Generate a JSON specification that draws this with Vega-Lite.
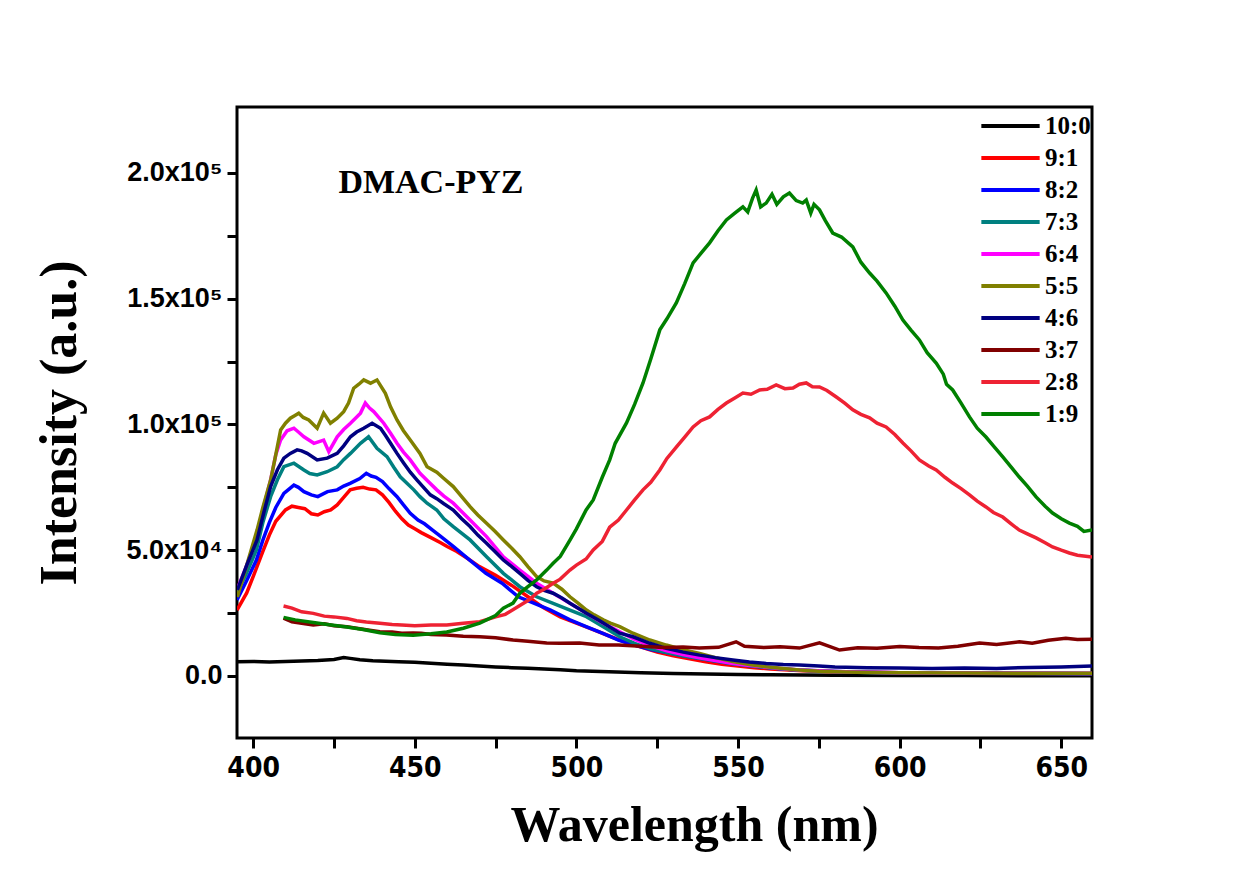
{
"$schema": "https://vega.github.io/schema/vega-lite/v6.json",
"width": 855, "height": 631,
"autosize": {"type": "none"},
"padding": {"left": 237, "top": 107, "right": 167, "bottom": 140},
"background": "white",
"config": {"view": {"stroke": "black", "strokeWidth": 3}},
"datasets": {
"spectra": [
{"s":"10:0","x":395,"y":5700},{"s":"10:0","x":400,"y":5800},{"s":"10:0","x":405,"y":5600},{"s":"10:0","x":410,"y":5800},{"s":"10:0","x":415,"y":6000},{"s":"10:0","x":420,"y":6200},{"s":"10:0","x":425,"y":6600},{"s":"10:0","x":428,"y":7300},{"s":"10:0","x":430,"y":7000},{"s":"10:0","x":433,"y":6500},{"s":"10:0","x":437,"y":6100},{"s":"10:0","x":441,"y":5900},{"s":"10:0","x":445,"y":5700},{"s":"10:0","x":450,"y":5500},{"s":"10:0","x":455,"y":5100},{"s":"10:0","x":460,"y":4700},{"s":"10:0","x":465,"y":4400},{"s":"10:0","x":470,"y":4000},{"s":"10:0","x":475,"y":3600},{"s":"10:0","x":480,"y":3300},{"s":"10:0","x":485,"y":3100},{"s":"10:0","x":490,"y":2800},{"s":"10:0","x":495,"y":2500},{"s":"10:0","x":500,"y":2100},{"s":"10:0","x":505,"y":1900},{"s":"10:0","x":510,"y":1700},{"s":"10:0","x":515,"y":1500},{"s":"10:0","x":520,"y":1300},{"s":"10:0","x":530,"y":1000},{"s":"10:0","x":540,"y":800},{"s":"10:0","x":550,"y":600},{"s":"10:0","x":560,"y":500},{"s":"10:0","x":570,"y":400},{"s":"10:0","x":580,"y":300},{"s":"10:0","x":600,"y":200},{"s":"10:0","x":620,"y":200},{"s":"10:0","x":640,"y":100},{"s":"10:0","x":659.5,"y":100},

{"s":"9:1","x":395,"y":26200},{"s":"9:1","x":398,"y":33000},{"s":"9:1","x":400,"y":39500},{"s":"9:1","x":403,"y":49500},{"s":"9:1","x":405,"y":56000},{"s":"9:1","x":407,"y":61500},{"s":"9:1","x":410,"y":66000},{"s":"9:1","x":412,"y":67500},{"s":"9:1","x":414,"y":67000},{"s":"9:1","x":416,"y":66500},{"s":"9:1","x":418,"y":64500},{"s":"9:1","x":420,"y":64000},{"s":"9:1","x":422,"y":65300},{"s":"9:1","x":424,"y":66000},{"s":"9:1","x":426,"y":68000},{"s":"9:1","x":428,"y":71000},{"s":"9:1","x":430,"y":74000},{"s":"9:1","x":432,"y":74600},{"s":"9:1","x":434,"y":75000},{"s":"9:1","x":436,"y":74300},{"s":"9:1","x":438,"y":74000},{"s":"9:1","x":440,"y":72000},{"s":"9:1","x":442,"y":69000},{"s":"9:1","x":444,"y":65500},{"s":"9:1","x":446,"y":62500},{"s":"9:1","x":448,"y":60000},{"s":"9:1","x":450,"y":58500},{"s":"9:1","x":452,"y":57000},{"s":"9:1","x":455,"y":55000},{"s":"9:1","x":458,"y":53000},{"s":"9:1","x":460,"y":51500},{"s":"9:1","x":463,"y":49500},{"s":"9:1","x":466,"y":47000},{"s":"9:1","x":470,"y":43500},{"s":"9:1","x":475,"y":40000},{"s":"9:1","x":480,"y":36000},{"s":"9:1","x":485,"y":31500},{"s":"9:1","x":490,"y":27000},{"s":"9:1","x":495,"y":23500},{"s":"9:1","x":500,"y":21000},{"s":"9:1","x":505,"y":18500},{"s":"9:1","x":510,"y":16000},{"s":"9:1","x":515,"y":13500},{"s":"9:1","x":520,"y":11500},{"s":"9:1","x":525,"y":9500},{"s":"9:1","x":530,"y":8000},{"s":"9:1","x":535,"y":6800},{"s":"9:1","x":540,"y":5700},{"s":"9:1","x":545,"y":4700},{"s":"9:1","x":550,"y":4000},{"s":"9:1","x":555,"y":3300},{"s":"9:1","x":560,"y":2800},{"s":"9:1","x":570,"y":2100},{"s":"9:1","x":580,"y":1700},{"s":"9:1","x":590,"y":1500},{"s":"9:1","x":600,"y":1300},{"s":"9:1","x":620,"y":1100},{"s":"9:1","x":640,"y":1000},{"s":"9:1","x":659.5,"y":1000},

{"s":"8:2","x":395,"y":30200},{"s":"8:2","x":398,"y":38000},{"s":"8:2","x":401,"y":46100},{"s":"8:2","x":403,"y":54000},{"s":"8:2","x":405,"y":61000},{"s":"8:2","x":407,"y":67000},{"s":"8:2","x":409.5,"y":72600},{"s":"8:2","x":412.6,"y":75900},{"s":"8:2","x":414,"y":75000},{"s":"8:2","x":415.7,"y":73300},{"s":"8:2","x":418,"y":72000},{"s":"8:2","x":420,"y":71300},{"s":"8:2","x":423,"y":73300},{"s":"8:2","x":426,"y":74000},{"s":"8:2","x":428,"y":75500},{"s":"8:2","x":430,"y":76600},{"s":"8:2","x":433,"y":78500},{"s":"8:2","x":435,"y":80600},{"s":"8:2","x":436.5,"y":79500},{"s":"8:2","x":438,"y":79000},{"s":"8:2","x":440,"y":77300},{"s":"8:2","x":442,"y":74500},{"s":"8:2","x":444.5,"y":71300},{"s":"8:2","x":446.5,"y":68000},{"s":"8:2","x":448.6,"y":64700},{"s":"8:2","x":451,"y":62000},{"s":"8:2","x":453,"y":60500},{"s":"8:2","x":456,"y":57500},{"s":"8:2","x":458,"y":55500},{"s":"8:2","x":462,"y":51400},{"s":"8:2","x":467,"y":46100},{"s":"8:2","x":472,"y":40800},{"s":"8:2","x":477,"y":36900},{"s":"8:2","x":482,"y":31500},{"s":"8:2","x":487,"y":28900},{"s":"8:2","x":492,"y":26200},{"s":"8:2","x":498,"y":22300},{"s":"8:2","x":503,"y":19600},{"s":"8:2","x":508,"y":17000},{"s":"8:2","x":513,"y":14300},{"s":"8:2","x":518,"y":12300},{"s":"8:2","x":523,"y":10500},{"s":"8:2","x":528,"y":9300},{"s":"8:2","x":533,"y":8000},{"s":"8:2","x":538,"y":7000},{"s":"8:2","x":543,"y":6000},{"s":"8:2","x":548,"y":5000},{"s":"8:2","x":553,"y":4200},{"s":"8:2","x":559,"y":3400},{"s":"8:2","x":564,"y":2800},{"s":"8:2","x":569,"y":2400},{"s":"8:2","x":580,"y":1800},{"s":"8:2","x":590,"y":1500},{"s":"8:2","x":600,"y":1300},{"s":"8:2","x":620,"y":1200},{"s":"8:2","x":640,"y":1100},{"s":"8:2","x":659.5,"y":1000},

{"s":"7:3","x":395,"y":33000},{"s":"7:3","x":398,"y":41000},{"s":"7:3","x":401,"y":50100},{"s":"7:3","x":403,"y":61000},{"s":"7:3","x":405.4,"y":71300},{"s":"7:3","x":407.5,"y":78000},{"s":"7:3","x":409.5,"y":83200},{"s":"7:3","x":412.6,"y":84600},{"s":"7:3","x":415.7,"y":81900},{"s":"7:3","x":417.5,"y":80500},{"s":"7:3","x":419.8,"y":79900},{"s":"7:3","x":422.9,"y":81200},{"s":"7:3","x":426,"y":83200},{"s":"7:3","x":428,"y":86000},{"s":"7:3","x":430.1,"y":88500},{"s":"7:3","x":433.2,"y":92500},{"s":"7:3","x":435.7,"y":95100},{"s":"7:3","x":438.3,"y":90500},{"s":"7:3","x":441.4,"y":87200},{"s":"7:3","x":443.5,"y":83000},{"s":"7:3","x":445.5,"y":79200},{"s":"7:3","x":449.7,"y":74000},{"s":"7:3","x":451.6,"y":71300},{"s":"7:3","x":453.8,"y":68700},{"s":"7:3","x":456.8,"y":66000},{"s":"7:3","x":459,"y":62500},{"s":"7:3","x":461.9,"y":59400},{"s":"7:3","x":467.1,"y":54100},{"s":"7:3","x":472.2,"y":47400},{"s":"7:3","x":477.4,"y":40800},{"s":"7:3","x":482.5,"y":35500},{"s":"7:3","x":487.7,"y":31500},{"s":"7:3","x":492.8,"y":28900},{"s":"7:3","x":498,"y":26200},{"s":"7:3","x":503.1,"y":23600},{"s":"7:3","x":508.3,"y":19600},{"s":"7:3","x":513.4,"y":15600},{"s":"7:3","x":518,"y":13000},{"s":"7:3","x":523,"y":10800},{"s":"7:3","x":528,"y":9300},{"s":"7:3","x":533,"y":8000},{"s":"7:3","x":538,"y":7000},{"s":"7:3","x":543,"y":6000},{"s":"7:3","x":548,"y":5000},{"s":"7:3","x":553,"y":4200},{"s":"7:3","x":559,"y":3400},{"s":"7:3","x":564,"y":2800},{"s":"7:3","x":569,"y":2300},{"s":"7:3","x":580,"y":1800},{"s":"7:3","x":590,"y":1400},{"s":"7:3","x":600,"y":1200},{"s":"7:3","x":620,"y":1100},{"s":"7:3","x":640,"y":1000},{"s":"7:3","x":659.5,"y":900},

{"s":"6:4","x":395,"y":34200},{"s":"6:4","x":398,"y":44000},{"s":"6:4","x":401.2,"y":55400},{"s":"6:4","x":403,"y":66000},{"s":"6:4","x":405.4,"y":77900},{"s":"6:4","x":407,"y":88000},{"s":"6:4","x":408.5,"y":93800},{"s":"6:4","x":410.5,"y":97500},{"s":"6:4","x":412.6,"y":98500},{"s":"6:4","x":414,"y":97000},{"s":"6:4","x":415.7,"y":95100},{"s":"6:4","x":418.8,"y":92500},{"s":"6:4","x":421.8,"y":93800},{"s":"6:4","x":423.4,"y":89200},{"s":"6:4","x":426,"y":95100},{"s":"6:4","x":428,"y":98000},{"s":"6:4","x":430.1,"y":100500},{"s":"6:4","x":433.2,"y":104500},{"s":"6:4","x":434.7,"y":108500},{"s":"6:4","x":436,"y":106500},{"s":"6:4","x":437.3,"y":105100},{"s":"6:4","x":440.4,"y":100500},{"s":"6:4","x":442.5,"y":96500},{"s":"6:4","x":444.5,"y":92500},{"s":"6:4","x":446.5,"y":89000},{"s":"6:4","x":448.6,"y":85900},{"s":"6:4","x":451.6,"y":80600},{"s":"6:4","x":454,"y":77500},{"s":"6:4","x":456.8,"y":74000},{"s":"6:4","x":459,"y":71500},{"s":"6:4","x":461.9,"y":68700},{"s":"6:4","x":467.1,"y":62000},{"s":"6:4","x":472.2,"y":55400},{"s":"6:4","x":477.4,"y":47400},{"s":"6:4","x":482.5,"y":42100},{"s":"6:4","x":487.7,"y":36900},{"s":"6:4","x":492.8,"y":32900},{"s":"6:4","x":498,"y":28900},{"s":"6:4","x":503.1,"y":24900},{"s":"6:4","x":508.3,"y":21000},{"s":"6:4","x":513.4,"y":17600},{"s":"6:4","x":518,"y":14500},{"s":"6:4","x":523,"y":12000},{"s":"6:4","x":528,"y":10000},{"s":"6:4","x":533,"y":8500},{"s":"6:4","x":538,"y":7200},{"s":"6:4","x":543,"y":6100},{"s":"6:4","x":548,"y":5100},{"s":"6:4","x":553,"y":4300},{"s":"6:4","x":559,"y":3500},{"s":"6:4","x":564,"y":2900},{"s":"6:4","x":569,"y":2400},{"s":"6:4","x":580,"y":1800},{"s":"6:4","x":590,"y":1500},{"s":"6:4","x":600,"y":1300},{"s":"6:4","x":620,"y":1200},{"s":"6:4","x":640,"y":1100},{"s":"6:4","x":659.5,"y":1000},

{"s":"5:5","x":395.1,"y":31400},{"s":"5:5","x":398,"y":44000},{"s":"5:5","x":401.2,"y":58000},{"s":"5:5","x":403,"y":67000},{"s":"5:5","x":405.4,"y":77900},{"s":"5:5","x":407,"y":88000},{"s":"5:5","x":408.5,"y":97800},{"s":"5:5","x":410,"y":100500},{"s":"5:5","x":411.5,"y":102500},{"s":"5:5","x":412.8,"y":103500},{"s":"5:5","x":414.1,"y":104500},{"s":"5:5","x":415.5,"y":102800},{"s":"5:5","x":417.2,"y":101800},{"s":"5:5","x":419.8,"y":98500},{"s":"5:5","x":421.8,"y":104500},{"s":"5:5","x":423.9,"y":100500},{"s":"5:5","x":426,"y":102500},{"s":"5:5","x":428,"y":105100},{"s":"5:5","x":429.5,"y":108500},{"s":"5:5","x":431.1,"y":114400},{"s":"5:5","x":432.7,"y":116000},{"s":"5:5","x":434.2,"y":117700},{"s":"5:5","x":436.3,"y":116400},{"s":"5:5","x":438.3,"y":117700},{"s":"5:5","x":440.9,"y":112400},{"s":"5:5","x":442.5,"y":107000},{"s":"5:5","x":444.5,"y":101800},{"s":"5:5","x":446.5,"y":97500},{"s":"5:5","x":448.6,"y":93800},{"s":"5:5","x":451.6,"y":88500},{"s":"5:5","x":453.8,"y":83200},{"s":"5:5","x":456.8,"y":81000},{"s":"5:5","x":459,"y":78500},{"s":"5:5","x":461.9,"y":75300},{"s":"5:5","x":464.5,"y":71300},{"s":"5:5","x":467.1,"y":67300},{"s":"5:5","x":469.5,"y":64000},{"s":"5:5","x":472.2,"y":60700},{"s":"5:5","x":474.8,"y":57500},{"s":"5:5","x":477.4,"y":54100},{"s":"5:5","x":480,"y":50800},{"s":"5:5","x":482.5,"y":47400},{"s":"5:5","x":485,"y":43500},{"s":"5:5","x":487.7,"y":39500},{"s":"5:5","x":490,"y":37800},{"s":"5:5","x":492.8,"y":36900},{"s":"5:5","x":495.5,"y":34500},{"s":"5:5","x":498,"y":31500},{"s":"5:5","x":500.5,"y":29000},{"s":"5:5","x":503.1,"y":26200},{"s":"5:5","x":505.5,"y":24300},{"s":"5:5","x":508.3,"y":22300},{"s":"5:5","x":510.5,"y":21000},{"s":"5:5","x":513.4,"y":19600},{"s":"5:5","x":517.5,"y":17000},{"s":"5:5","x":522.7,"y":14300},{"s":"5:5","x":527.8,"y":12300},{"s":"5:5","x":533,"y":10500},{"s":"5:5","x":538.1,"y":9000},{"s":"5:5","x":543,"y":7300},{"s":"5:5","x":548.4,"y":5700},{"s":"5:5","x":553.5,"y":4600},{"s":"5:5","x":558.7,"y":3700},{"s":"5:5","x":564,"y":3000},{"s":"5:5","x":569,"y":2400},{"s":"5:5","x":575,"y":1900},{"s":"5:5","x":580,"y":1700},{"s":"5:5","x":590,"y":1400},{"s":"5:5","x":600,"y":1300},{"s":"5:5","x":620,"y":1200},{"s":"5:5","x":640,"y":1100},{"s":"5:5","x":659.5,"y":1100},

{"s":"4:6","x":395.1,"y":34200},{"s":"4:6","x":398,"y":44000},{"s":"4:6","x":401.2,"y":54100},{"s":"4:6","x":403.3,"y":65000},{"s":"4:6","x":405.4,"y":75300},{"s":"4:6","x":407.5,"y":82000},{"s":"4:6","x":409.5,"y":86600},{"s":"4:6","x":411.5,"y":88500},{"s":"4:6","x":413.6,"y":89900},{"s":"4:6","x":415,"y":89500},{"s":"4:6","x":416.7,"y":88500},{"s":"4:6","x":419.8,"y":85900},{"s":"4:6","x":422.9,"y":86600},{"s":"4:6","x":426,"y":88500},{"s":"4:6","x":428,"y":91500},{"s":"4:6","x":430.1,"y":95100},{"s":"4:6","x":432,"y":97000},{"s":"4:6","x":434.2,"y":98500},{"s":"4:6","x":436.8,"y":100500},{"s":"4:6","x":439.4,"y":98500},{"s":"4:6","x":441,"y":95500},{"s":"4:6","x":442.5,"y":92500},{"s":"4:6","x":444.5,"y":88500},{"s":"4:6","x":446.6,"y":84600},{"s":"4:6","x":448.6,"y":81000},{"s":"4:6","x":450.7,"y":77900},{"s":"4:6","x":452.5,"y":75300},{"s":"4:6","x":454.8,"y":72000},{"s":"4:6","x":456.8,"y":70500},{"s":"4:6","x":459,"y":68500},{"s":"4:6","x":461.9,"y":66000},{"s":"4:6","x":464.5,"y":62500},{"s":"4:6","x":467.1,"y":59400},{"s":"4:6","x":469.5,"y":56000},{"s":"4:6","x":472.2,"y":52800},{"s":"4:6","x":474.8,"y":49500},{"s":"4:6","x":477.4,"y":46100},{"s":"4:6","x":480,"y":43500},{"s":"4:6","x":482.5,"y":40800},{"s":"4:6","x":485,"y":38000},{"s":"4:6","x":487.7,"y":35500},{"s":"4:6","x":490,"y":34000},{"s":"4:6","x":492.8,"y":32900},{"s":"4:6","x":495.5,"y":31000},{"s":"4:6","x":498,"y":28900},{"s":"4:6","x":503.1,"y":24900},{"s":"4:6","x":507.2,"y":22000},{"s":"4:6","x":513.4,"y":17000},{"s":"4:6","x":517.5,"y":15600},{"s":"4:6","x":522.7,"y":13000},{"s":"4:6","x":527.8,"y":11000},{"s":"4:6","x":533,"y":9500},{"s":"4:6","x":538.1,"y":8300},{"s":"4:6","x":543,"y":7300},{"s":"4:6","x":548.4,"y":6400},{"s":"4:6","x":553.5,"y":5600},{"s":"4:6","x":558.7,"y":5000},{"s":"4:6","x":564,"y":4600},{"s":"4:6","x":569,"y":4400},{"s":"4:6","x":575,"y":4000},{"s":"4:6","x":580,"y":3600},{"s":"4:6","x":590,"y":3300},{"s":"4:6","x":600,"y":3200},{"s":"4:6","x":610,"y":3000},{"s":"4:6","x":620,"y":3200},{"s":"4:6","x":630,"y":3000},{"s":"4:6","x":640,"y":3400},{"s":"4:6","x":650,"y":3600},{"s":"4:6","x":659.5,"y":4000},

{"s":"3:7","x":409.4,"y":23000},{"s":"3:7","x":412,"y":21500},{"s":"3:7","x":415,"y":21000},{"s":"3:7","x":418.6,"y":20300},{"s":"3:7","x":422,"y":20800},{"s":"3:7","x":425,"y":20000},{"s":"3:7","x":429,"y":19600},{"s":"3:7","x":432,"y":19000},{"s":"3:7","x":436,"y":18200},{"s":"3:7","x":439.2,"y":17600},{"s":"3:7","x":443,"y":17500},{"s":"3:7","x":446,"y":17000},{"s":"3:7","x":449.5,"y":17100},{"s":"3:7","x":452,"y":17000},{"s":"3:7","x":455,"y":16500},{"s":"3:7","x":459.8,"y":16300},{"s":"3:7","x":465,"y":15800},{"s":"3:7","x":470.1,"y":15600},{"s":"3:7","x":475,"y":15200},{"s":"3:7","x":480.4,"y":14300},{"s":"3:7","x":485,"y":13800},{"s":"3:7","x":490.8,"y":13100},{"s":"3:7","x":495,"y":13000},{"s":"3:7","x":501,"y":13100},{"s":"3:7","x":507,"y":12300},{"s":"3:7","x":513,"y":12300},{"s":"3:7","x":520,"y":11800},{"s":"3:7","x":527,"y":11300},{"s":"3:7","x":533,"y":11500},{"s":"3:7","x":538,"y":11100},{"s":"3:7","x":544,"y":11400},{"s":"3:7","x":549.4,"y":13600},{"s":"3:7","x":552,"y":11800},{"s":"3:7","x":558,"y":11300},{"s":"3:7","x":563,"y":11600},{"s":"3:7","x":569,"y":11100},{"s":"3:7","x":575.2,"y":13200},{"s":"3:7","x":581.4,"y":10300},{"s":"3:7","x":587,"y":11200},{"s":"3:7","x":593,"y":11000},{"s":"3:7","x":600,"y":11700},{"s":"3:7","x":606,"y":11300},{"s":"3:7","x":612,"y":11100},{"s":"3:7","x":618,"y":11800},{"s":"3:7","x":624.7,"y":13100},{"s":"3:7","x":630,"y":12500},{"s":"3:7","x":637,"y":13600},{"s":"3:7","x":641,"y":13000},{"s":"3:7","x":646,"y":14200},{"s":"3:7","x":651.4,"y":15000},{"s":"3:7","x":655,"y":14500},{"s":"3:7","x":659.5,"y":14600},

{"s":"2:8","x":409.4,"y":27800},{"s":"2:8","x":412,"y":27000},{"s":"2:8","x":415,"y":25500},{"s":"2:8","x":418.6,"y":24900},{"s":"2:8","x":422,"y":23800},{"s":"2:8","x":425,"y":23500},{"s":"2:8","x":429,"y":22900},{"s":"2:8","x":432,"y":22000},{"s":"2:8","x":435,"y":21500},{"s":"2:8","x":439.2,"y":21000},{"s":"2:8","x":443,"y":20500},{"s":"2:8","x":446,"y":20300},{"s":"2:8","x":450,"y":20000},{"s":"2:8","x":455,"y":20300},{"s":"2:8","x":459.9,"y":20300},{"s":"2:8","x":465,"y":21000},{"s":"2:8","x":470.1,"y":21600},{"s":"2:8","x":475,"y":23500},{"s":"2:8","x":478,"y":24500},{"s":"2:8","x":482.5,"y":28000},{"s":"2:8","x":485.6,"y":30500},{"s":"2:8","x":487.7,"y":32900},{"s":"2:8","x":490,"y":34500},{"s":"2:8","x":492.8,"y":36900},{"s":"2:8","x":495,"y":38500},{"s":"2:8","x":498,"y":42100},{"s":"2:8","x":500,"y":44100},{"s":"2:8","x":503,"y":46500},{"s":"2:8","x":505.2,"y":50100},{"s":"2:8","x":508,"y":53500},{"s":"2:8","x":510.3,"y":59200},{"s":"2:8","x":513,"y":62000},{"s":"2:8","x":515.5,"y":66000},{"s":"2:8","x":518,"y":70000},{"s":"2:8","x":520.6,"y":74000},{"s":"2:8","x":523,"y":77000},{"s":"2:8","x":525.8,"y":81900},{"s":"2:8","x":528,"y":86500},{"s":"2:8","x":530.9,"y":91000},{"s":"2:8","x":533.5,"y":95000},{"s":"2:8","x":536.1,"y":99000},{"s":"2:8","x":538.5,"y":101500},{"s":"2:8","x":541.2,"y":103000},{"s":"2:8","x":543.8,"y":106000},{"s":"2:8","x":546.4,"y":108500},{"s":"2:8","x":549,"y":110500},{"s":"2:8","x":551.5,"y":112500},{"s":"2:8","x":554,"y":112000},{"s":"2:8","x":556.7,"y":113700},{"s":"2:8","x":559,"y":114000},{"s":"2:8","x":561.8,"y":115700},{"s":"2:8","x":564.5,"y":114200},{"s":"2:8","x":567,"y":114500},{"s":"2:8","x":569,"y":116000},{"s":"2:8","x":571.1,"y":116500},{"s":"2:8","x":573,"y":115000},{"s":"2:8","x":575.2,"y":114900},{"s":"2:8","x":577.5,"y":113500},{"s":"2:8","x":580.4,"y":110900},{"s":"2:8","x":583,"y":108500},{"s":"2:8","x":585.5,"y":105800},{"s":"2:8","x":588,"y":104000},{"s":"2:8","x":590.7,"y":102600},{"s":"2:8","x":593,"y":100500},{"s":"2:8","x":595.8,"y":99000},{"s":"2:8","x":598.5,"y":96000},{"s":"2:8","x":601,"y":92600},{"s":"2:8","x":603.5,"y":89500},{"s":"2:8","x":606.1,"y":85900},{"s":"2:8","x":609,"y":83500},{"s":"2:8","x":611.3,"y":81900},{"s":"2:8","x":614,"y":79000},{"s":"2:8","x":616.4,"y":76700},{"s":"2:8","x":619,"y":74500},{"s":"2:8","x":621.6,"y":72000},{"s":"2:8","x":624,"y":69500},{"s":"2:8","x":626.7,"y":67200},{"s":"2:8","x":629,"y":65000},{"s":"2:8","x":631.9,"y":63200},{"s":"2:8","x":634.5,"y":60500},{"s":"2:8","x":637,"y":58000},{"s":"2:8","x":639.5,"y":56500},{"s":"2:8","x":642.2,"y":54900},{"s":"2:8","x":645,"y":53000},{"s":"2:8","x":647.3,"y":51300},{"s":"2:8","x":650,"y":50000},{"s":"2:8","x":652.5,"y":48900},{"s":"2:8","x":655,"y":48000},{"s":"2:8","x":659.5,"y":47300},

{"s":"1:9","x":409.4,"y":23300},{"s":"1:9","x":413,"y":22300},{"s":"1:9","x":418.6,"y":21300},{"s":"1:9","x":423,"y":20500},{"s":"1:9","x":429,"y":19500},{"s":"1:9","x":434,"y":18500},{"s":"1:9","x":439.2,"y":17200},{"s":"1:9","x":444,"y":16500},{"s":"1:9","x":449.5,"y":16200},{"s":"1:9","x":455,"y":16800},{"s":"1:9","x":459.9,"y":17500},{"s":"1:9","x":465,"y":19000},{"s":"1:9","x":470.1,"y":21000},{"s":"1:9","x":475,"y":24000},{"s":"1:9","x":477.4,"y":27000},{"s":"1:9","x":480.4,"y":29000},{"s":"1:9","x":482.5,"y":32900},{"s":"1:9","x":485,"y":35500},{"s":"1:9","x":487.7,"y":38200},{"s":"1:9","x":490.8,"y":42100},{"s":"1:9","x":492.8,"y":44800},{"s":"1:9","x":495,"y":47500},{"s":"1:9","x":498,"y":54000},{"s":"1:9","x":500,"y":58500},{"s":"1:9","x":503,"y":66000},{"s":"1:9","x":505.2,"y":70000},{"s":"1:9","x":508,"y":79000},{"s":"1:9","x":510.3,"y":85900},{"s":"1:9","x":512,"y":92500},{"s":"1:9","x":515.5,"y":100600},{"s":"1:9","x":518,"y":108000},{"s":"1:9","x":520.6,"y":116500},{"s":"1:9","x":523,"y":126000},{"s":"1:9","x":525.8,"y":137600},{"s":"1:9","x":528,"y":142000},{"s":"1:9","x":530.9,"y":148300},{"s":"1:9","x":533.5,"y":156000},{"s":"1:9","x":536.1,"y":164200},{"s":"1:9","x":538.5,"y":168000},{"s":"1:9","x":541.2,"y":172200},{"s":"1:9","x":543.8,"y":177000},{"s":"1:9","x":546.4,"y":181300},{"s":"1:9","x":549,"y":184000},{"s":"1:9","x":551.5,"y":186500},{"s":"1:9","x":553,"y":184500},{"s":"1:9","x":554.5,"y":190000},{"s":"1:9","x":555.6,"y":193200},{"s":"1:9","x":557,"y":186500},{"s":"1:9","x":558.7,"y":188000},{"s":"1:9","x":560.5,"y":191500},{"s":"1:9","x":562,"y":187500},{"s":"1:9","x":564,"y":190500},{"s":"1:9","x":565.9,"y":192000},{"s":"1:9","x":568,"y":189000},{"s":"1:9","x":570,"y":188000},{"s":"1:9","x":571.1,"y":189200},{"s":"1:9","x":572.5,"y":184000},{"s":"1:9","x":573.5,"y":187500},{"s":"1:9","x":575.2,"y":185300},{"s":"1:9","x":577,"y":181000},{"s":"1:9","x":579.3,"y":176100},{"s":"1:9","x":582,"y":174500},{"s":"1:9","x":585.5,"y":170600},{"s":"1:9","x":588,"y":164500},{"s":"1:9","x":590.7,"y":160200},{"s":"1:9","x":593,"y":157000},{"s":"1:9","x":595.8,"y":152300},{"s":"1:9","x":598.5,"y":147000},{"s":"1:9","x":601,"y":141500},{"s":"1:9","x":603.5,"y":137500},{"s":"1:9","x":606.1,"y":133600},{"s":"1:9","x":608.5,"y":128500},{"s":"1:9","x":611.3,"y":124400},{"s":"1:9","x":613.5,"y":120000},{"s":"1:9","x":614.5,"y":116000},{"s":"1:9","x":616.4,"y":113700},{"s":"1:9","x":619,"y":108500},{"s":"1:9","x":621.6,"y":103000},{"s":"1:9","x":624,"y":98500},{"s":"1:9","x":626.7,"y":95000},{"s":"1:9","x":629,"y":91500},{"s":"1:9","x":631.9,"y":87100},{"s":"1:9","x":634.5,"y":83000},{"s":"1:9","x":637,"y":79100},{"s":"1:9","x":639.5,"y":75500},{"s":"1:9","x":642.2,"y":71200},{"s":"1:9","x":645,"y":67500},{"s":"1:9","x":647.3,"y":64800},{"s":"1:9","x":650,"y":62500},{"s":"1:9","x":652.5,"y":60800},{"s":"1:9","x":655,"y":59500},{"s":"1:9","x":657,"y":57500},{"s":"1:9","x":659.5,"y":58000}
],
"note": [{"label": "DMAC-PYZ", "x": 455, "y": 196000}]
},
"layer": [
{
"data": {"name": "spectra"},
"mark": {"type": "line", "strokeWidth": 3.5, "clip": true},
"encoding": {
"x": {"field": "x", "type": "quantitative",
 "scale": {"domain": [395, 659.5], "nice": false, "zero": false},
 "axis": {"title": "Wavelength (nm)", "values": [400,425,450,475,500,525,550,575,600,625,650],
  "labelExpr": "datum.value % 50 == 0 ? datum.label : ''",
  "grid": false, "domain": false, "tickColor": "black", "tickWidth": 3, "tickSize": 10,
  "labelFont": "'Liberation Sans Narrow', 'DejaVu Sans Condensed', 'Liberation Sans'", "labelFontWeight": "bold", "labelFontSize": 28, "labelColor": "black", "labelPadding": 6,
  "titleFont": "Liberation Serif", "titleFontWeight": "bold", "titleFontSize": 50, "titleColor": "black", "titlePadding": 18, "titleX": 457}},
"y": {"field": "y", "type": "quantitative",
 "scale": {"domain": [-24650, 226200], "nice": false, "zero": false},
 "axis": {"title": "Intensity (a.u.)", "values": [0,25000,50000,75000,100000,125000,150000,175000,200000],
  "labelExpr": "datum.value == 0 ? '0.0' : datum.value == 50000 ? '5.0x10⁴' : datum.value == 100000 ? '1.0x10⁵' : datum.value == 150000 ? '1.5x10⁵' : datum.value == 200000 ? '2.0x10⁵' : ''",
  "grid": false, "domain": false, "tickColor": "black", "tickWidth": 3, "tickSize": 10,
  "labelFont": "Liberation Sans", "labelFontWeight": "bold", "labelFontSize": 27, "labelColor": "black", "labelPadding": 5,
  "titleFont": "Liberation Serif", "titleFontWeight": "bold", "titleFontSize": 52, "titleColor": "black", "titlePadding": 40}},
"color": {"field": "s", "type": "nominal",
 "scale": {"domain": ["10:0","9:1","8:2","7:3","6:4","5:5","4:6","3:7","2:8","1:9"],
  "range": ["#000000","#FF0000","#0000FF","#008080","#FF00FF","#808000","#000080","#800000","#EE2233","#008000"]},
 "legend": {"title": null, "orient": "none", "legendX": 742, "legendY": 3, "padding": 0,
  "symbolType": "stroke", "symbolStrokeWidth": 4, "symbolSize": 3400, "rowPadding": 0, "clipHeight": 32,
  "labelFont": "Liberation Serif", "labelFontWeight": "bold", "labelFontSize": 25, "labelColor": "black", "labelOffset": 3}}
}
},
{
"data": {"name": "note"},
"mark": {"type": "text", "font": "Liberation Serif", "fontWeight": "bold", "fontSize": 34, "color": "black"},
"encoding": {
"x": {"field": "x", "type": "quantitative"},
"y": {"field": "y", "type": "quantitative"},
"text": {"field": "label"}
}
}
]
}
